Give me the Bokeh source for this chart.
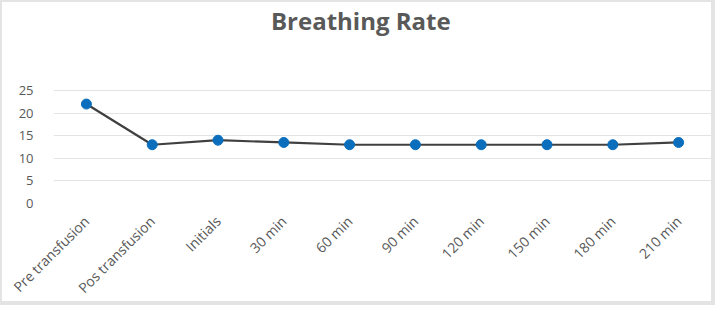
from bokeh.plotting import figure
from bokeh.models import FactorRange, FixedTicker, ColumnDataSource, Range1d, Label
from bokeh.embed import file_html
from bokeh.resources import INLINE

# Breathing rate readings across the transfusion timeline
categories = ["Pre transfusion", "Pos transfusion", "Initials", "30 min", "60 min",
              "90 min", "120 min", "150 min", "180 min", "210 min"]
breathing_rate = [22, 13, 14, 13.5, 13, 13, 13, 13, 13, 13.5]
y_ticks = [0, 5, 10, 15, 20, 25]
chart_title = "Breathing Rate"

source = ColumnDataSource(data=dict(x=categories, y=breathing_rate))

# the frame reaches almost to the top so the heading can sit inside it,
# above the highest gridline
p = figure(
    width=715, height=305,
    x_range=FactorRange(*categories),
    y_range=Range1d(0, 43.8),
    output_backend="svg", toolbar_location=None,
    min_border_left=51, min_border_right=6,
    min_border_top=3, min_border_bottom=104,
)
p.styles = {"border-style": "solid", "border-color": "#e4e4e4",
            "border-width": "2px 4px 4px 2px"}

p.outline_line_color = None
p.background_fill_color = "white"
p.border_fill_color = "white"

p.add_layout(Label(x=4.67, y=40.4, text=chart_title,
                   text_align="center", text_baseline="middle",
                   text_font="Open Sans", text_font_size="24px",
                   text_font_style="bold", text_color="#595959"))

p.line("x", "y", source=source, line_color="#404040", line_width=2.2)
p.scatter("x", "y", source=source, size=10, fill_color="#0a6ebd",
          line_color="#0a6ebd")

p.yaxis.ticker = FixedTicker(ticks=y_ticks)
p.ygrid.ticker = FixedTicker(ticks=y_ticks)
p.ygrid.grid_line_color = "#e3e3e3"
p.ygrid.grid_line_width = 1
p.xgrid.grid_line_color = None

for ax in (p.xaxis, p.yaxis):
    ax.axis_line_color = None
    ax.major_tick_line_color = None
    ax.minor_tick_line_color = None
    ax.major_label_text_color = "#595959"
    ax.major_label_text_font = "Open Sans"

p.yaxis.major_label_text_font_size = "13px"
p.xaxis.major_label_text_font_size = "14px"
p.yaxis.major_label_standoff = 14
p.xaxis.major_label_orientation = 0.785398
p.xaxis.major_label_standoff = 9

open("out.html", "w").write(file_html(p, INLINE))
